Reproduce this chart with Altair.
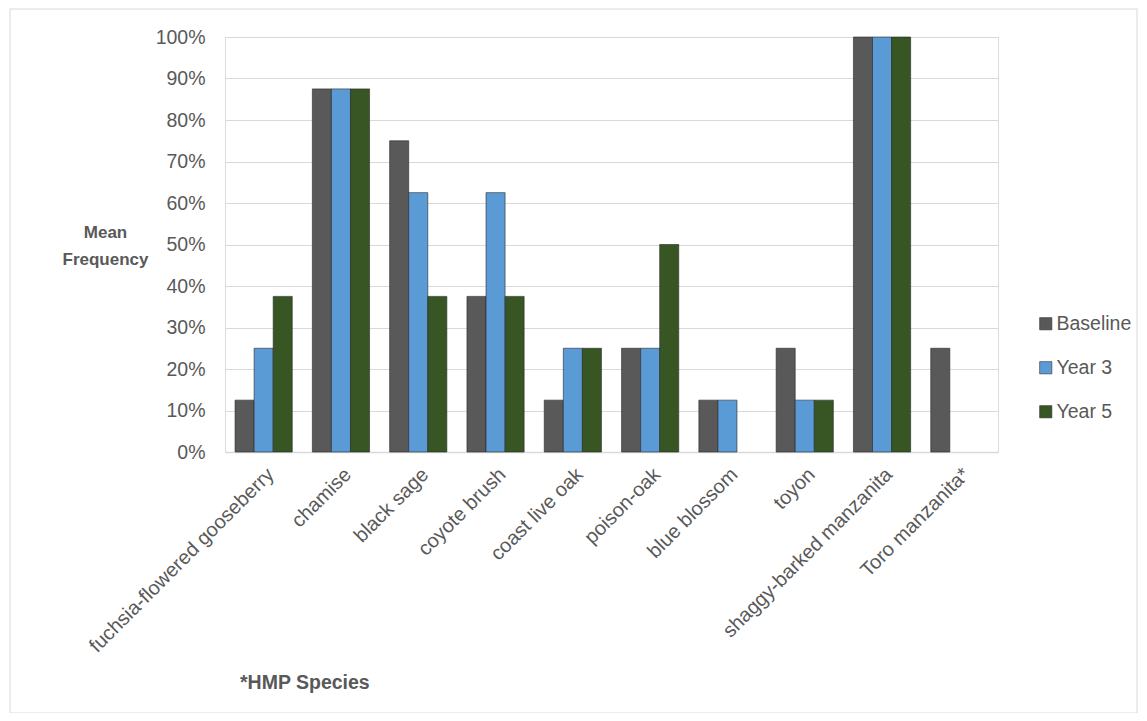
import altair as alt
import pandas as pd

species = ["fuchsia-flowered gooseberry", "chamise", "black sage", "coyote brush",
           "coast live oak", "poison-oak", "blue blossom", "toyon",
           "shaggy-barked manzanita", "Toro manzanita*"]
series = ["Baseline", "Year 3", "Year 5"]
baseline = [0.125, 0.875, 0.75, 0.375, 0.125, 0.25, 0.125, 0.25, 1.0, 0.25]
year3 = [0.25, 0.875, 0.625, 0.625, 0.25, 0.25, 0.125, 0.125, 1.0, 0.0]
year5 = [0.375, 0.875, 0.375, 0.375, 0.25, 0.5, 0.0, 0.125, 1.0, 0.0]
colors = ["#595959", "#5B9BD5", "#375623"]
y_ticks = [i / 10 for i in range(11)]

rows = []
for s, vals in zip(series, [baseline, year3, year5]):
    for sp, v in zip(species, vals):
        rows.append({"species": sp, "series": s, "value": v})
df = pd.DataFrame(rows)

FONT = "Liberation Sans, Arial"
W, H = 773, 415

bars = alt.Chart(df).transform_filter("datum.value > 0").mark_bar(
    stroke="#262626", strokeWidth=0.8, strokeOpacity=0.75
).encode(
    x=alt.X("species:N", sort=species,
            scale=alt.Scale(domain=species, paddingInner=0.26, paddingOuter=0.13),
            axis=alt.Axis(title=None, labelAngle=-45, labelAlign="right", labelBaseline="top",
                          labelPadding=12, labelFontSize=20, labelColor="#595959", labelFont=FONT,
                          ticks=False, domainColor="#d9d9d9", domainWidth=1.5, labelLimit=400)),
    xOffset=alt.XOffset("series:N", sort=series,
                        scale=alt.Scale(domain=series, paddingInner=0, paddingOuter=0)),
    y=alt.Y("value:Q", scale=alt.Scale(domain=[0, 1], nice=False),
            axis=alt.Axis(values=y_ticks, format=".0%", title=["Mean", "Frequency"],
                          titleAngle=0, titleAlign="center", titleBaseline="middle",
                          titleX=-120, titleY=195, titleFontSize=17, titleFontWeight="bold",
                          titleColor="#595959", titleFont=FONT, titleLineHeight=27,
                          labelFontSize=19.5, labelColor="#595959", labelFont=FONT, labelPadding=20,
                          ticks=False, domain=False, gridColor="#d9d9d9", gridWidth=1.2)),
    color=alt.Color("series:N", sort=series, scale=alt.Scale(domain=series, range=colors),
                    legend=alt.Legend(title=None, orient="none", legendX=811, legendY=277,
                                      symbolType="square", symbolSize=150, labelFontSize=19.5,
                                      labelColor="#595959", labelFont=FONT, rowPadding=23,
                                      symbolStrokeColor="#333333", symbolStrokeWidth=0.6,
                                      labelOffset=1)),
)

note = alt.Chart(pd.DataFrame({"t": ["*HMP Species"]})).mark_text(
    align="left", baseline="middle", fontSize=19.5, fontWeight="bold", color="#595959", font=FONT
).encode(text="t:N", x=alt.value(15), y=alt.value(646))

border = alt.Chart(pd.DataFrame({"a": [0]})).mark_rect(
    fill=None, stroke="#d9d9d9", strokeWidth=1
).encode(x=alt.value(-215), x2=alt.value(912), y=alt.value(-28), y2=alt.value(676))

chart = alt.layer(border, bars, note).properties(
    width=W, height=H,
    autosize=alt.AutoSizeParams(type="none"),
    padding={"left": 217, "top": 29, "right": 141, "bottom": 261},
).configure_view(stroke=None).configure(background="white")

chart.save("out.html", embed_options={"renderer": "svg", "actions": False})
